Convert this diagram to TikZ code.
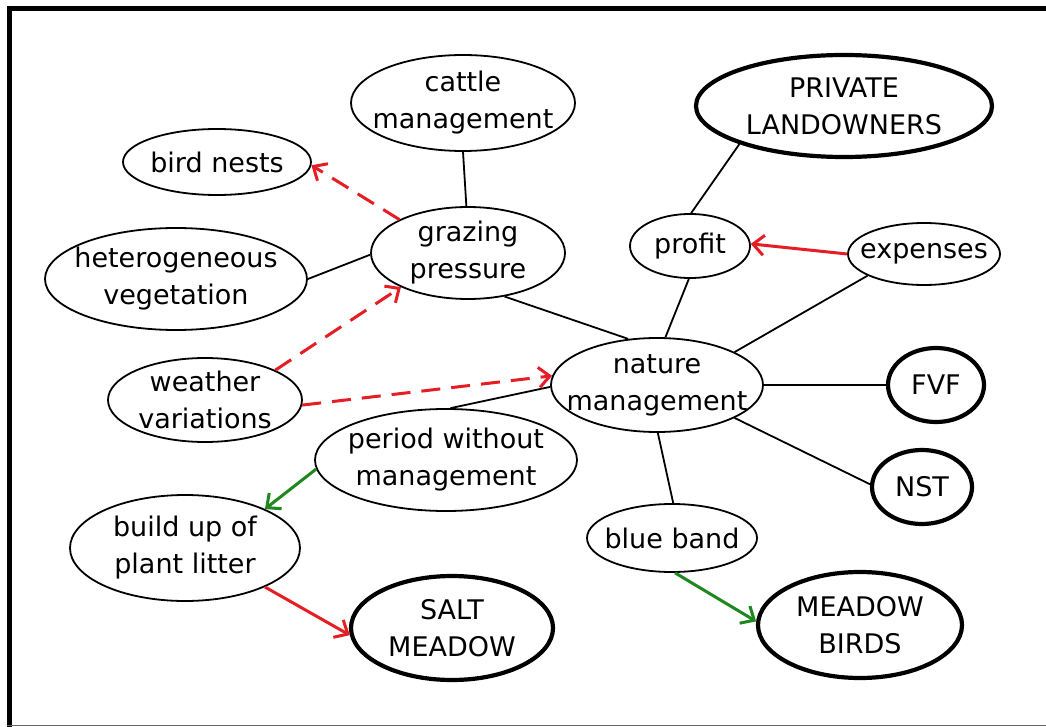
\documentclass[tikz,border=0pt]{standalone}
\usepackage{fontspec}
\setmainfont{DejaVu Sans}
\usetikzlibrary{shapes.geometric,arrows.meta}
\definecolor{cred}{RGB}{228,30,36}
\definecolor{cgreen}{RGB}{30,135,30}
\tikzset{
  bub/.style={ellipse, draw=black, line width=1.8pt, inner sep=0pt},
  bigbub/.style={bub, line width=4.2pt},
  txt/.style={inner sep=0pt, align=center, font=\fontsize{27}{37}\selectfont},
  link/.style={draw=black, line width=1.8pt},
  redd/.style={draw=cred, line width=3pt, dash pattern=on 19pt off 11pt, -{Straight Barb[length=11pt,width=20pt,line width=3pt]}},
  reds/.style={draw=cred, line width=3pt, -{Straight Barb[length=11pt,width=20pt,line width=3pt]}},
  greens/.style={draw=cgreen, line width=3pt, -{Straight Barb[length=11pt,width=20pt,line width=3pt]}},
}
\begin{document}
\begin{tikzpicture}[x=1pt,y=-1pt]
\useasboundingbox (0,0) rectangle (1046,727);
\fill[white] (0,0) rectangle (1046,727);
% frame
\draw[line width=5pt] (9.5,727) -- (9.5,8.5) -- (1046,8.5);
\draw[line width=1.5pt, black!60] (7,725.5) -- (1046,725.5);
% nodes (ellipses)
\node[bub, minimum width=224pt, minimum height=96pt] (cattle) at (463,103) {};
\node[bub, minimum width=188pt, minimum height=66pt] (bird) at (217,162) {};
\node[bigbub, minimum width=296pt, minimum height=102pt] (priv) at (844,106) {};
\node[bub, minimum width=194pt, minimum height=92pt] (graz) at (468,253) {};
\node[bub, minimum width=262pt, minimum height=102pt] (het) at (176,279) {};
\node[bub, minimum width=120pt, minimum height=64pt] (profit) at (690,246) {};
\node[bub, minimum width=152pt, minimum height=62pt] (exp) at (924,254) {};
\node[bub, minimum width=194pt, minimum height=84pt] (weather) at (205,400) {};
\node[bub, minimum width=212pt, minimum height=94pt] (nat) at (657,385) {};
\node[bigbub, minimum width=96pt, minimum height=74pt] (fvf) at (936,385) {};
\node[bigbub, minimum width=100pt, minimum height=74pt] (nst) at (922,487) {};
\node[bub, minimum width=262pt, minimum height=102pt] (period) at (446,460) {};
\node[bub, minimum width=230pt, minimum height=106pt] (build) at (185,548) {};
\node[bigbub, minimum width=202pt, minimum height=104pt] (salt) at (452,628) {};
\node[bub, minimum width=170pt, minimum height=68pt] (blue) at (672,538) {};
\node[bigbub, minimum width=204pt, minimum height=106pt] (mbirds) at (860,625) {};
% texts
\node[txt] (cattleT) at (cattle) {cattle\\management};
\node[txt] (birdT) at (bird) {bird nests};
\node[txt] (privT) at (priv) {PRIVATE\\LANDOWNERS};
\node[txt] (grazT) at (graz) {grazing\\pressure};
\node[txt] (hetT) at (het) {heterogeneous\\vegetation};
\node[txt] (profitT) at (profit) {profit};
\node[txt] (expT) at (exp) {expenses};
\node[txt] (weatherT) at (weather) {weather\\variations};
\node[txt] (natT) at (nat) {nature\\management};
\node[txt] (fvfT) at (fvf) {FVF};
\node[txt] (nstT) at (nst) {NST};
\node[txt] (periodT) at (period) {period without\\management};
\node[txt] (buildT) at (build) {build up of\\plant litter};
\node[txt] (saltT) at (salt) {SALT\\MEADOW};
\node[txt] (blueT) at (blue) {blue band};
\node[txt] (mbirdsT) at (mbirds) {MEADOW\\BIRDS};
% connectors
\draw[link] (cattle.270) -- (graz.92);
\draw[link] (het.0) -- (graz.181);
\draw[link] (graz.-50) -- (nat.122);
\draw[link] (period.85) -- (nat.181);
\draw[link] (priv.200) -- (profit.88);
\draw[link] (profit.268) -- (nat.80);
\draw[link] (exp.201) -- (nat.23);
\draw[link] (nat.0) -- (fvf.180);
\draw[link] (nat.-23) -- (nst.177);
\draw[link] (nat.-89) -- (blue.88);
\draw[redd] (graz.154) -- (bird.-2);
\draw[redd] (weather.23) -- (graz.207);
\draw[redd] (weather.-3) -- (nat.175);
\draw[reds] (exp.180) -- (profit.2);
\draw[greens] (period.184) -- (build.26);
\draw[reds] (build.-26) -- (salt.184);
\draw[greens] (blue.-85) -- (mbirds.178);
\end{tikzpicture}
\end{document}
